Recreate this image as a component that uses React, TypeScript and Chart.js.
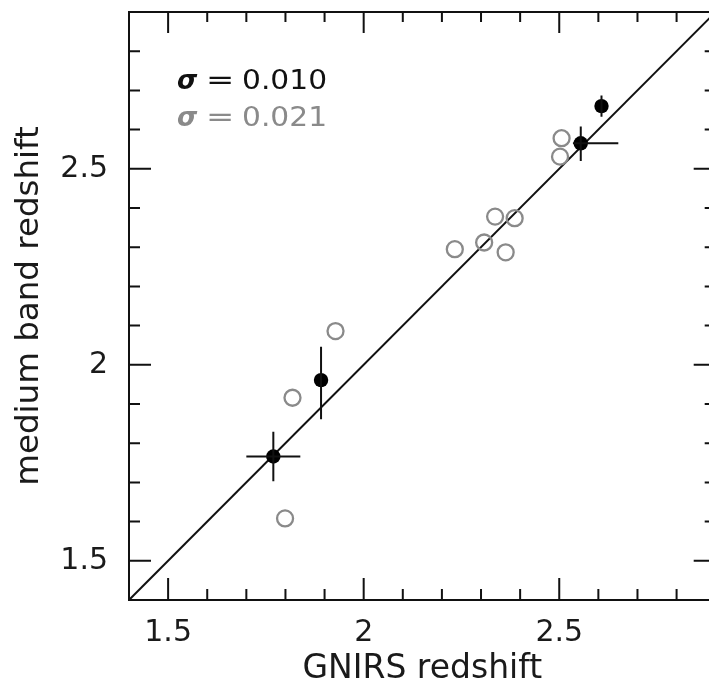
import React, { useEffect, useRef } from "react";
import { Chart, registerables } from "chart.js";

Chart.register(...registerables);

// ---- data ----
const axisMin = 1.4;
const axisMax = 2.9;
const majorTicks = [1.5, 2, 2.5];
const minorStep = 0.1;

// filled (black) points with error bars
const gnirsFilled = [1.769, 1.891, 2.555, 2.608];
const mbFilled = [1.766, 1.961, 2.565, 2.66];
const xErrMinus = [0.069, 0, 0.02, 0];
const xErrPlus = [0.069, 0, 0.096, 0];
const yErrMinus = [0.063, 0.1, 0.045, 0.027];
const yErrPlus = [0.063, 0.085, 0.043, 0.027];

// open (grey) points
const gnirsOpen = [2.506, 2.502, 2.336, 2.386, 2.308, 2.233, 2.363, 1.928, 1.818, 1.799];
const mbOpen = [2.578, 2.531, 2.378, 2.374, 2.312, 2.295, 2.287, 2.086, 1.916, 1.608];

const sigmaValues = ["0.010", "0.021"];
const sigmaColors = ["#111111", "#8a8a8a"];

const xTitle = "GNIRS redshift";
const yTitle = "medium band redshift";

const FONT = '"DejaVu Sans", "Liberation Sans", sans-serif';

const framePlugin = {
  id: "frameTicks",
  afterDatasetsDraw(chart: any) {
    const { ctx, chartArea, scales } = chart;
    const { left, right, top, bottom } = chartArea;
    const xs = scales.x;
    const ys = scales.y;
    ctx.save();
    ctx.strokeStyle = "#111";
    ctx.lineWidth = 2;
    ctx.lineCap = "butt";

    // error bars
    ctx.beginPath();
    for (let i = 0; i < gnirsFilled.length; i++) {
      const x = gnirsFilled[i];
      const y = mbFilled[i];
      if (xErrMinus[i] > 0 || xErrPlus[i] > 0) {
        ctx.moveTo(xs.getPixelForValue(x - xErrMinus[i]), ys.getPixelForValue(y));
        ctx.lineTo(xs.getPixelForValue(x + xErrPlus[i]), ys.getPixelForValue(y));
      }
      if (yErrMinus[i] > 0 || yErrPlus[i] > 0) {
        ctx.moveTo(xs.getPixelForValue(x), ys.getPixelForValue(y - yErrMinus[i]));
        ctx.lineTo(xs.getPixelForValue(x), ys.getPixelForValue(y + yErrPlus[i]));
      }
    }
    ctx.stroke();

    // frame
    ctx.beginPath();
    ctx.moveTo(left, top);
    ctx.lineTo(right, top);
    ctx.lineTo(right, bottom);
    ctx.lineTo(left, bottom);
    ctx.closePath();
    ctx.stroke();

    // inward ticks
    const isMajor = (v: number) => majorTicks.some((m) => Math.abs(m - v) < 1e-6);
    ctx.beginPath();
    const n = Math.round((axisMax - axisMin) / minorStep);
    for (let k = 1; k < n; k++) {
      const v = axisMin + k * minorStep;
      const major = isMajor(v);
      const px = xs.getPixelForValue(v);
      const py = ys.getPixelForValue(v);
      const lb = major ? 22 : 11;
      const lt = major ? 21 : 10;
      ctx.moveTo(px, bottom);
      ctx.lineTo(px, bottom - lb);
      ctx.moveTo(px, top);
      ctx.lineTo(px, top + lt);
      ctx.moveTo(left, py);
      ctx.lineTo(left + lb, py);
      ctx.moveTo(right, py);
      ctx.lineTo(right - lb, py);
    }
    ctx.stroke();

    // sigma annotation
    const baseX = left + 48;
    const baseYs = [top + 77, top + 114];
    for (let i = 0; i < sigmaValues.length; i++) {
      ctx.fillStyle = sigmaColors[i];
      ctx.textBaseline = "alphabetic";
      ctx.textAlign = "left";
      const by = baseYs[i];
      ctx.font = `italic bold 26px ${FONT}`;
      ctx.fillText("σ", baseX, by);
      ctx.font = `27px ${FONT}`;
      ctx.save();
      ctx.translate(baseX + 29, by);
      ctx.scale(1.25, 1);
      ctx.fillText("=", 0, 0);
      ctx.restore();
      ctx.save();
      ctx.translate(baseX + 65, by);
      ctx.scale(1.1, 1);
      ctx.fillText(sigmaValues[i], 0, 0);
      ctx.restore();
    }
    ctx.restore();
  },
};

export default function App() {
  const canvasRef = useRef<HTMLCanvasElement | null>(null);

  useEffect(() => {
    document.body.style.margin = "0";
    const canvas = canvasRef.current;
    if (!canvas) return;

    const chart = new Chart(canvas, {
      type: "scatter",
      data: {
        datasets: [
          {
            type: "line",
            label: "one-to-one",
            data: [
              { x: axisMin, y: axisMin },
              { x: axisMax, y: axisMax },
            ],
            borderColor: "#111",
            borderWidth: 2,
            pointRadius: 0,
            fill: false,
            order: 3,
          } as any,
          {
            label: "open",
            data: gnirsOpen.map((x, i) => ({ x, y: mbOpen[i] })),
            pointRadius: 8,
            pointHoverRadius: 8,
            borderWidth: 2.3,
            borderColor: "#8a8a8a",
            backgroundColor: "rgba(255,255,255,0)",
            order: 2,
          },
          {
            label: "filled",
            data: gnirsFilled.map((x, i) => ({ x, y: mbFilled[i] })),
            pointRadius: 7.2,
            pointHoverRadius: 7.2,
            borderWidth: 0,
            backgroundColor: "#000",
            borderColor: "#000",
            order: 1,
          },
        ],
      },
      options: {
        animation: false,
        responsive: false,
        devicePixelRatio: 1,
        layout: { padding: { left: 0, top: 12, right: 3, bottom: 0 } },
        plugins: {
          legend: { display: false },
          tooltip: { enabled: false },
        },
        scales: {
          x: {
            type: "linear",
            min: axisMin,
            max: axisMax,
            grid: { display: false, drawTicks: false },
            border: { display: false },
            afterBuildTicks: (scale: any) => {
              scale.ticks = majorTicks.map((v) => ({ value: v }));
            },
            afterFit: (scale: any) => {
              scale.height = 85;
              scale.paddingLeft = 0;
              scale.paddingRight = 0;
            },
            ticks: {
              padding: 15,
              color: "#1a1a1a",
              font: { family: FONT, size: 30 },
              callback: (v: any) => String(v),
            },
            title: {
              display: true,
              text: xTitle,
              color: "#1a1a1a",
              font: { family: FONT, size: 33 },
              padding: { top: 0, bottom: -4 },
            },
          },
          y: {
            type: "linear",
            min: axisMin,
            max: axisMax,
            grid: { display: false, drawTicks: false },
            border: { display: false },
            afterBuildTicks: (scale: any) => {
              scale.ticks = majorTicks.map((v) => ({ value: v }));
            },
            afterFit: (scale: any) => {
              scale.width = 129;
              scale.paddingTop = 0;
              scale.paddingBottom = 0;
            },
            ticks: {
              padding: 21,
              color: "#1a1a1a",
              font: { family: FONT, size: 30 },
              callback: (v: any) => String(v),
            },
            title: {
              display: true,
              text: yTitle,
              color: "#1a1a1a",
              font: { family: FONT, size: 32.5 },
              padding: { top: 10, bottom: 0 },
            },
          },
        },
      },
      plugins: [framePlugin],
    });

    return () => chart.destroy();
  }, []);

  return (
    <div
      style={{
        position: "fixed",
        left: 0,
        top: 0,
        width: 709,
        height: 685,
        overflow: "hidden",
        background: "#fff",
      }}
    >
      <canvas ref={canvasRef} width={726} height={685} style={{ display: "block", width: 726, height: 685 }} />
    </div>
  );
}
